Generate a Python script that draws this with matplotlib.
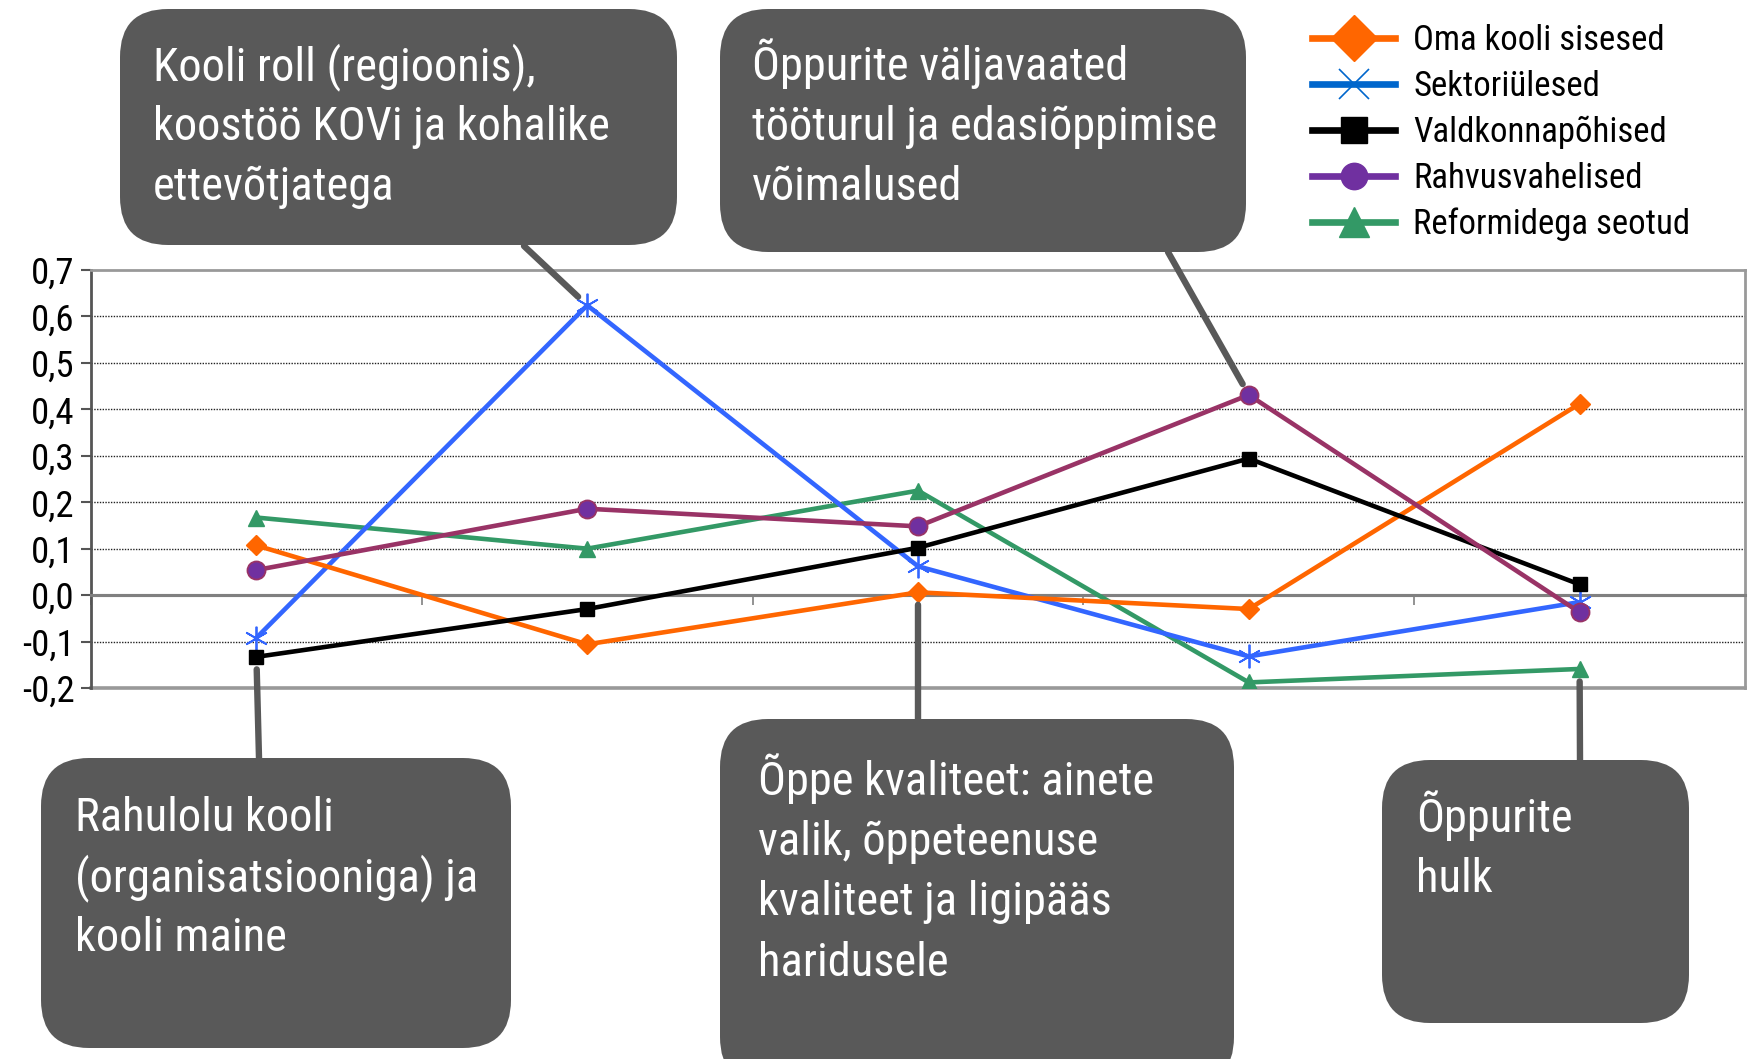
import matplotlib
matplotlib.use('Agg')
import matplotlib.pyplot as plt
from matplotlib.patches import FancyBboxPatch, ConnectionPatch
from matplotlib.lines import Line2D
from matplotlib.transforms import IdentityTransform
from matplotlib.ticker import FuncFormatter, FixedLocator

plt.rcParams['font.family'] = ['Roboto Condensed', 'PT Sans Narrow', 'Liberation Sans', 'DejaVu Sans']

W, H = 1748, 1059
DPI = 100

# ---------------- data ----------------
categories = [
    "Rahulolu kooli\n(organisatsiooniga) ja\nkooli maine",
    "Kooli roll (regioonis),\nkoostöö KOVi ja kohalike\nettevõtjatega",
    "Õppe kvaliteet: ainete\nvalik, õppeteenuse\nkvaliteet ja ligipääs\nharidusele",
    "Õppurite väljavaated\ntööturul ja edasiõppimise\nvõimalused",
    "Õppurite\nhulk",
]
series_names = ["Oma kooli sisesed", "Sektoriülesed", "Valdkonnapõhised",
                "Rahvusvahelised", "Reformidega seotud"]
oma_kooli = [0.107, -0.106, 0.006, -0.030, 0.412]
sektoriulesed = [-0.092, 0.624, 0.062, -0.132, -0.015]
valdkonnapohised = [-0.133, -0.030, 0.102, 0.294, 0.023]
rahvusvahelised = [0.054, 0.186, 0.148, 0.431, -0.037]
reformidega = [0.167, 0.100, 0.225, -0.188, -0.159]
y_ticks = [-0.2, -0.1, 0.0, 0.1, 0.2, 0.3, 0.4, 0.5, 0.6, 0.7]

# which series point each callout points to
callout_series = [valdkonnapohised, sektoriulesed, oma_kooli, rahvusvahelised, reformidega]

# ---------------- figure ----------------
fig = plt.figure(figsize=(W / DPI, H / DPI), dpi=DPI)
fig.patch.set_facecolor('white')


def fx(px):
    return px / W


def fy(py):
    return 1 - py / H


ax_left, ax_right, ax_top, ax_bot = 91, 1745, 270, 688
ax = fig.add_axes([fx(ax_left), fy(ax_bot), fx(ax_right - ax_left), (ax_bot - ax_top) / H])

x = list(range(1, len(categories) + 1))
LW = 3.3
ax.plot(x, oma_kooli, color='#FF6600', lw=LW, marker='D', ms=10,
        mfc='#FF6600', mec='#FF6600', zorder=5)
ax.plot(x, sektoriulesed, color='#3366FF', lw=LW, marker=(6, 2, 0), ms=17,
        mec='#3366FF', mew=1.3, zorder=4)
ax.plot(x, valdkonnapohised, color='black', lw=LW, marker='s', ms=10,
        mfc='black', mec='black', zorder=6)
ax.plot(x, rahvusvahelised, color='#993366', lw=LW, marker='o', ms=13,
        mfc='#7030A0', mec='#993366', mew=1.3, zorder=7)
ax.plot(x, reformidega, color='#339966', lw=LW, marker='^', ms=12,
        mfc='#339966', mec='#339966', zorder=3)

ax.set_xlim(0.5, len(categories) + 0.5)
ax.set_ylim(-0.2, 0.7)

# grid
ax.yaxis.set_major_locator(FixedLocator(y_ticks))
ax.yaxis.set_major_formatter(FuncFormatter(lambda v, p: f"{v:.1f}".replace('.', ',').replace('-0,0', '0,0')))
for v in y_ticks:
    if abs(v) < 1e-9:
        ax.axhline(v, color='#808080', lw=2.2, zorder=1)
    elif -0.19 < v < 0.69:
        ax.axhline(v, color='#222222', lw=1.0, ls=(0, (1, 1)), zorder=1)

# spines
for s in ['top', 'right']:
    ax.spines[s].set_color('#999999')
    ax.spines[s].set_linewidth(2.0)
ax.spines['left'].set_color('#555555')
ax.spines['left'].set_linewidth(2.0)
ax.spines['bottom'].set_position(('data', 0))
ax.spines['bottom'].set_color('#808080')
ax.spines['bottom'].set_linewidth(2.2)
ax.axhline(-0.2, color='#999999', lw=2.6, zorder=1, clip_on=False)

ax.set_xticks([i + 0.5 for i in range(len(categories))])
ax.set_xticklabels([])
ax.tick_params(axis='x', direction='out', length=7, width=1.2, color='#808080')
ax.tick_params(axis='y', direction='out', length=7, width=1.5, color='#555555',
               labelsize=26.5, pad=5)

# ---------------- legend ----------------
LLW = 4.8
handles = [
    Line2D([], [], color='#FF6600', lw=LLW, marker='D', ms=23, mfc='#FF6600', mec='#FF6600'),
    Line2D([], [], color='#0066CC', lw=LLW, marker='x', ms=22, mec='#0066CC', mew=1.2),
    Line2D([], [], color='black', lw=LLW, marker='s', ms=19, mfc='black', mec='black'),
    Line2D([], [], color='#7030A0', lw=LLW, marker='o', ms=19, mfc='#7030A0', mec='#7030A0'),
    Line2D([], [], color='#339966', lw=LLW, marker='^', ms=22, mfc='#339966', mec='#339966'),
]
leg = fig.legend(handles, series_names, loc='upper left',
                 bbox_to_anchor=(fx(1298), fy(10)), frameon=False,
                 fontsize=25, handlelength=2.4, handletextpad=0.52,
                 labelspacing=0.37, borderaxespad=0)

# ---------------- callouts ----------------
# rect: (left, top, right, bottom) px from top-left; text: left x and first baseline; end: connector end on box
boxes = [
    dict(rect=(41, 758, 511, 1048), text=(75, 831), end=(259, 758)),
    dict(rect=(120, 9, 677, 245), text=(153, 80), end=(524, 246)),
    dict(rect=(720, 719, 1234, 1085), text=(758, 795), end=(918, 719)),
    dict(rect=(720, 9, 1246, 252), text=(752, 80), end=(1168, 252)),
    dict(rect=(1382, 760, 1689, 1023), text=(1416, 832), end=(1580, 760)),
]
LINE_STEP = 60.2
box_color = '#595959'
for i, b in enumerate(boxes):
    l, t, r, btm = b['rect']
    patch = FancyBboxPatch((l, H - btm), r - l, btm - t,
                           boxstyle="round,pad=0,rounding_size=48",
                           transform=IdentityTransform(), facecolor=box_color,
                           edgecolor='none', zorder=10)
    fig.add_artist(patch)
    for k, line in enumerate(categories[i].split('\n')):
        fig.text(b['text'][0], H - (b['text'][1] + k * LINE_STEP), line,
                 transform=IdentityTransform(), color='white', fontsize=33.5,
                 va='baseline', ha='left', zorder=11)
    con = ConnectionPatch(xyA=(x[i], callout_series[i][i]), coordsA='data', axesA=ax,
                          xyB=(b['end'][0], H - b['end'][1]), coordsB='figure pixels',
                          color=box_color, lw=4.6, shrinkA=9, shrinkB=0, zorder=9)
    fig.add_artist(con)

fig.savefig('out.png', dpi=DPI, facecolor='white')
